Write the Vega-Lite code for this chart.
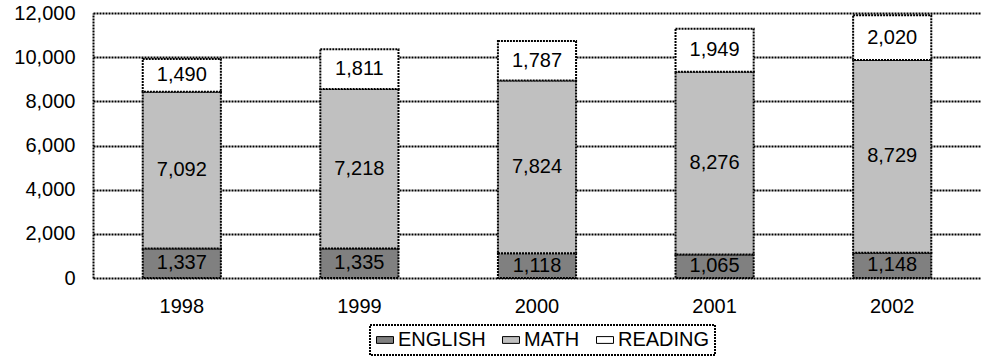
{
  "$schema": "https://vega.github.io/schema/vega-lite/v6.json",
  "width": 888,
  "height": 265,
  "autosize": {"type": "none"},
  "padding": {"left": 93, "top": 13, "right": 0, "bottom": 82},
  "background": "white",
  "config": {
    "view": {"stroke": null},
    "font": "Liberation Sans",
    "axis": {"labelFont": "Liberation Sans", "labelColor": "black", "labelFontSize": 20},
    "axisY": {
      "title": null,
      "values": [0, 2000, 4000, 6000, 8000, 10000, 12000],
      "format": ",d",
      "ticks": false,
      "labelPadding": 18,
      "grid": true,
      "gridColor": "black",
      "gridWidth": 2,
      "gridDash": [2, 1],
      "gridOpacity": 1,
      "domain": true,
      "domainColor": "black",
      "domainWidth": 2,
      "domainDash": [2, 1]
    }
  },
  "data": {
    "values": [
      {"year": "1998", "subject": "ENGLISH", "order": 1, "value": 1337},
      {"year": "1998", "subject": "MATH", "order": 2, "value": 7092},
      {"year": "1998", "subject": "READING", "order": 3, "value": 1490},
      {"year": "1999", "subject": "ENGLISH", "order": 1, "value": 1335},
      {"year": "1999", "subject": "MATH", "order": 2, "value": 7218},
      {"year": "1999", "subject": "READING", "order": 3, "value": 1811},
      {"year": "2000", "subject": "ENGLISH", "order": 1, "value": 1118},
      {"year": "2000", "subject": "MATH", "order": 2, "value": 7824},
      {"year": "2000", "subject": "READING", "order": 3, "value": 1787},
      {"year": "2001", "subject": "ENGLISH", "order": 1, "value": 1065},
      {"year": "2001", "subject": "MATH", "order": 2, "value": 8276},
      {"year": "2001", "subject": "READING", "order": 3, "value": 1949},
      {"year": "2002", "subject": "ENGLISH", "order": 1, "value": 1148},
      {"year": "2002", "subject": "MATH", "order": 2, "value": 8729},
      {"year": "2002", "subject": "READING", "order": 3, "value": 2020}
    ]
  },
  "transform": [
    {"stack": "value", "groupby": ["year"], "sort": [{"field": "order"}], "as": ["v0", "v1"]},
    {"calculate": "(datum.v0 + datum.v1) / 2", "as": "mid"}
  ],
  "encoding": {
    "x": {
      "field": "year",
      "type": "nominal",
      "scale": {"paddingInner": 0.56, "paddingOuter": 0.28},
      "axis": {"title": null, "labelAngle": 0, "domain": false, "ticks": false, "labelPadding": 18, "grid": false}
    }
  },
  "layer": [
    {
      "mark": {"type": "bar", "stroke": "black", "strokeWidth": 2, "strokeDash": [2, 1]},
      "encoding": {
        "y": {
          "field": "v0",
          "type": "quantitative",
          "scale": {"domain": [0, 12000], "nice": false},
          "title": null
        },
        "y2": {"field": "v1"},
        "color": {
          "field": "subject",
          "type": "nominal",
          "scale": {"domain": ["ENGLISH", "MATH", "READING"], "range": ["#808080", "#C0C0C0", "#FFFFFF"]},
          "legend": {
            "title": null,
            "orient": "none",
            "legendX": 277,
            "legendY": 312,
            "direction": "horizontal",
            "strokeColor": "black",
            "padding": 5,
            "labelFontSize": 20,
            "labelFont": "Liberation Sans",
            "labelColor": "black",
            "symbolType": "M-1,-0.4H1V0.4H-1Z",
            "symbolSize": 289,
            "symbolStrokeColor": "black",
            "symbolStrokeWidth": 1,
            "symbolOpacity": 1,
            "labelOffset": 3,
            "columnPadding": 14,
            "encode": {"legend": {"update": {"strokeDash": {"value": [2, 1]}, "strokeWidth": {"value": 2}}}}
          }
        }
      }
    },
    {
      "mark": {"type": "text", "fontSize": 20, "font": "Liberation Sans", "color": "black"},
      "encoding": {
        "y": {"field": "mid", "type": "quantitative", "title": null},
        "text": {"field": "value", "type": "quantitative", "format": ","}
      }
    }
  ]
}
